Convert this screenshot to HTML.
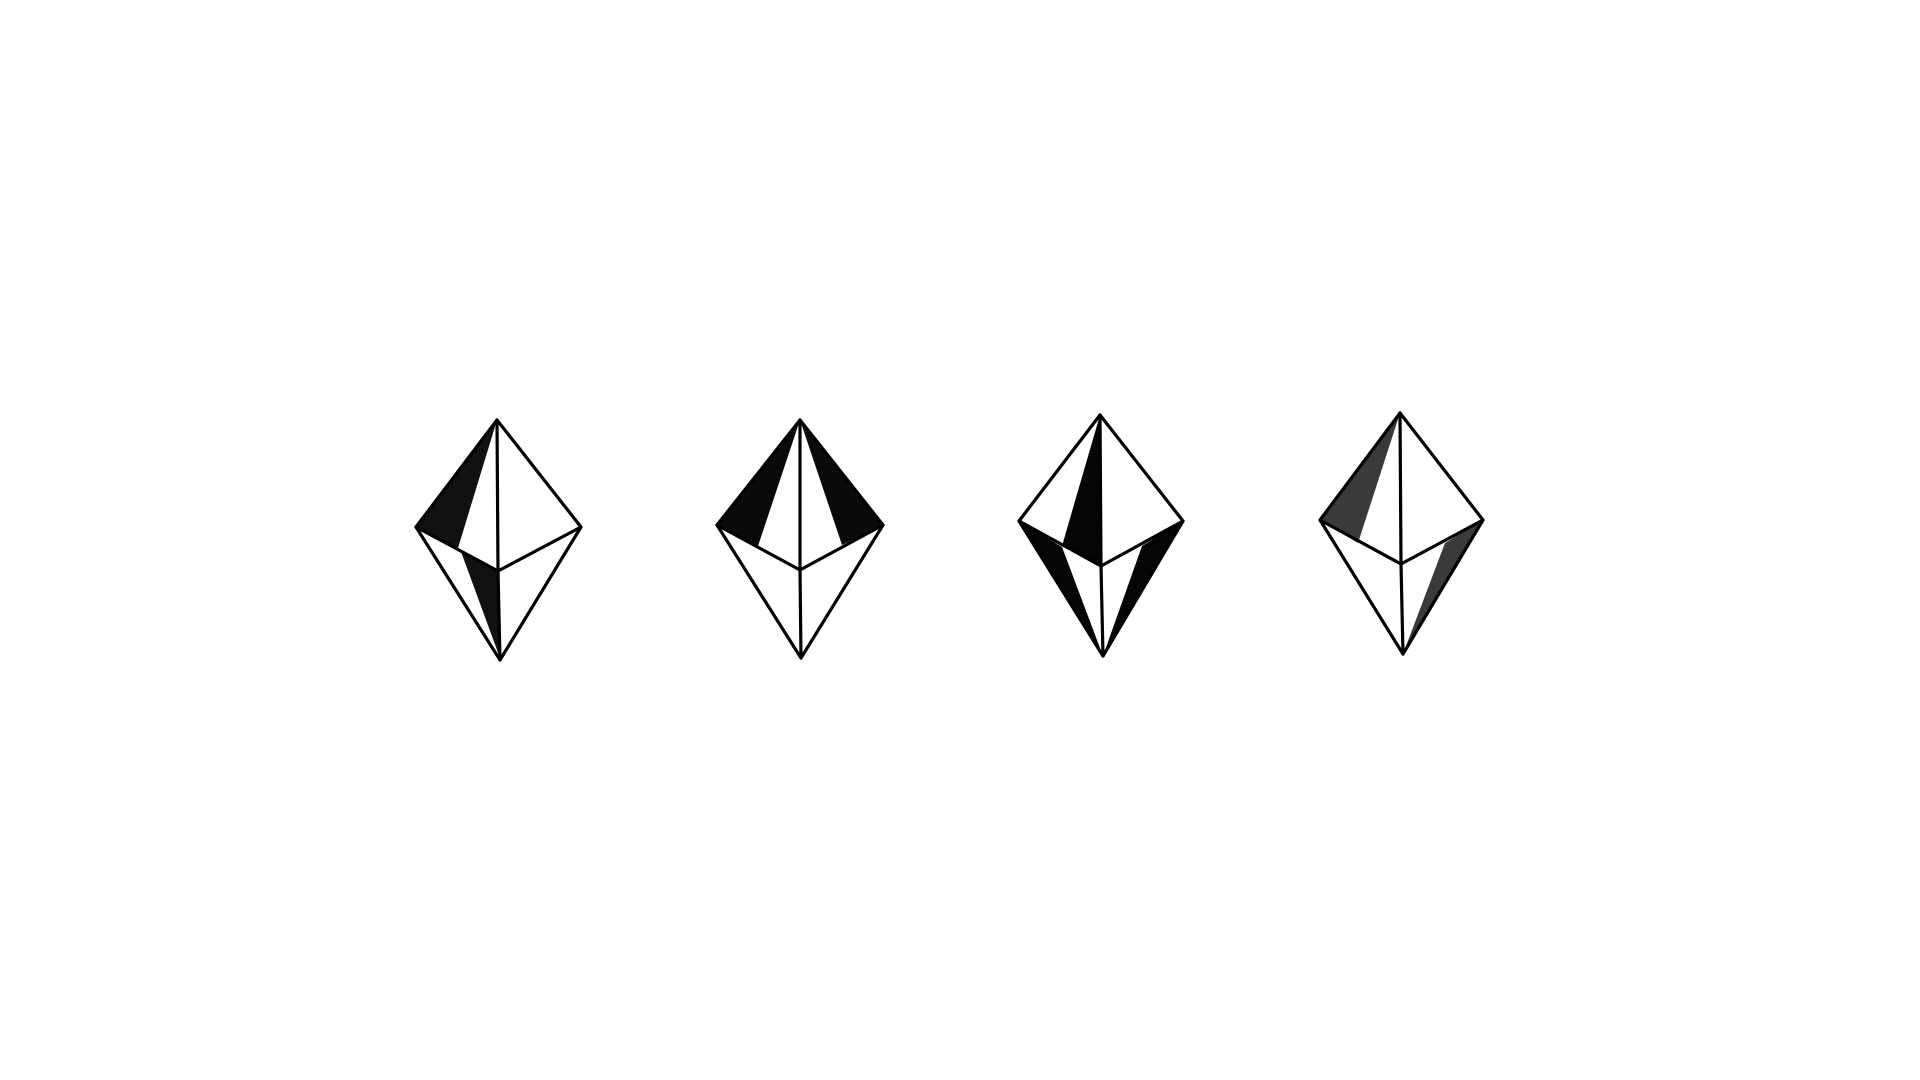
<!DOCTYPE html>
<html><head><meta charset="utf-8"><style>
html,body{margin:0;padding:0;background:#fff;width:1920px;height:1080px;overflow:hidden;font-family:"Liberation Sans",sans-serif}
svg{display:block}
</style></head><body>
<svg id="chart" width="1920" height="1080" viewBox="0 0 1920 1080"></svg>
<script>
// crystal vertices: top, left, right, center, bottom
const crystalNames = ['crystal-1','crystal-2','crystal-3','crystal-4'];
const tops    = [[497,420],[800,420],[1100,415],[1400,413]];
const lefts   = [[416,527],[717,525],[1019,521],[1320,520]];
const rights  = [[581,527],[883,525],[1183,521],[1483,520]];
const centers = [[498,571],[800,570],[1101,566],[1401,564]];
const bottoms = [[500,660],[801,658],[1103,656],[1403,654]];
// shaded faces (lists of points) per crystal
const shades = [
  [[[416,527],[497,420],[458,548]], [[460,549],[498,571],[500,658]]],
  [[[717,525],[800,420],[758,546]], [[800,420],[883,525],[842,545]]],
  [[[1100,415],[1101,566],[1062,546]], [[1019,521],[1062,547],[1103,656]], [[1183,521],[1142,546],[1103,656]]],
  [[[1320,520],[1400,413],[1358,543]], [[1483,520],[1445,543],[1403,654]]]
];
const shadeColors = ['#111','#0a0a0a','#050505','#3a3a3a'];
const svg = document.getElementById('chart');
const NS = 'http://www.w3.org/2000/svg';
function pts(a){return a.map(p=>p.join(',')).join(' ');}
for (let i=0;i<crystalNames.length;i++){
  const g = document.createElementNS(NS,'g');
  
  
  shades[i].forEach(face=>{
    const p = document.createElementNS(NS,'polygon');
    
    
    p.setAttribute('points', pts(face));
    p.setAttribute('fill', shadeColors[i]);
    g.appendChild(p);
  });
  const outline = document.createElementNS(NS,'polygon');
  
  
  outline.setAttribute('points', pts([tops[i],rights[i],bottoms[i],lefts[i]]));
  outline.setAttribute('fill','none');
  outline.setAttribute('stroke','#000');
  outline.setAttribute('stroke-width','3.2');
  outline.setAttribute('stroke-linejoin','round');
  g.appendChild(outline);
  const edges = [[tops[i],centers[i]],[centers[i],bottoms[i]],[lefts[i],centers[i]],[rights[i],centers[i]]];
  edges.forEach(e=>{
    const l = document.createElementNS(NS,'line');
    
    
    l.setAttribute('x1',e[0][0]);l.setAttribute('y1',e[0][1]);
    l.setAttribute('x2',e[1][0]);l.setAttribute('y2',e[1][1]);
    l.setAttribute('stroke','#000');
    l.setAttribute('stroke-width','3.2');
    l.setAttribute('stroke-linecap','round');
    g.appendChild(l);
  });
  svg.appendChild(g);
}
</script>
</body></html>
